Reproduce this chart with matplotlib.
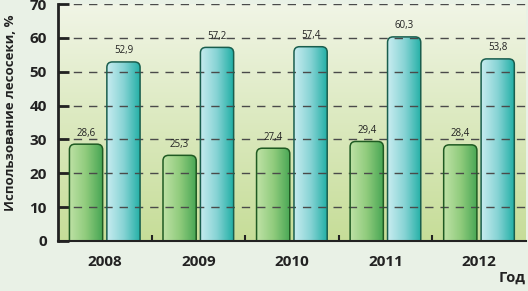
import numpy as np
import matplotlib.pyplot as plt
from matplotlib.patches import FancyBboxPatch
from matplotlib.colors import LinearSegmentedColormap

years = ['2008', '2009', '2010', '2011', '2012']
series_green = [28.6, 25.3, 27.4, 29.4, 28.4]
series_cyan = [52.9, 57.2, 57.4, 60.3, 53.8]
yticks = [0, 10, 20, 30, 40, 50, 60, 70]

plt.rcParams['font.family'] = ['Open Sans', 'DejaVu Sans']

fig = plt.figure(figsize=(5.28, 2.91), dpi=100)
fig.patch.set_facecolor('#e9f1e6')
ax = fig.add_axes([0.1098, 0.172, 0.886, 0.814])
ax.set_xlim(-0.5, 4.5)
ax.set_ylim(0, 70)

# background gradient of the plot area
bg = LinearSegmentedColormap.from_list('bg', ['#c6dd98', '#f1f5e6'])
grad = np.linspace(0, 1, 256).reshape(-1, 1)
ax.imshow(grad, cmap=bg, aspect='auto', extent=(-0.5, 4.5, 0, 70),
          origin='lower', zorder=0)

cm_green = LinearSegmentedColormap.from_list('g', ['#bfe2a6', '#8fcb7c', '#45a553'])
cm_cyan = LinearSegmentedColormap.from_list('c', ['#c8ecf0', '#86d3d4', '#1eaea4'])
hgrad = np.linspace(0, 1, 256).reshape(1, -1)

w = 0.355
off = 0.2


def gradient_bar(x, h, cmap, edge):
    left = x - w / 2
    patch = FancyBboxPatch((left, -2), w, h + 2,
                           boxstyle='round,pad=0,rounding_size=0.06',
                           mutation_aspect=27,
                           facecolor='none', edgecolor=edge, linewidth=1.1,
                           zorder=3)
    ax.add_patch(patch)
    im = ax.imshow(hgrad, cmap=cmap, aspect='auto',
                   extent=(left, left + w, -2, h), zorder=2)
    im.set_clip_path(patch)


x = np.arange(len(years))
for i in x:
    gradient_bar(i - off, series_green[i], cm_green, '#1f5a22')
    gradient_bar(i + off, series_cyan[i], cm_cyan, '#1a5e4e')
    for xx, v in [(i - off, series_green[i]), (i + off, series_cyan[i])]:
        ax.annotate(f'{v:.1f}'.replace('.', ','), (xx, v),
                    xytext=(0, 4), textcoords='offset points',
                    ha='center', va='bottom', fontsize=7, color='#222222',
                    zorder=5)

ax.set_yticks(yticks)
ax.set_yticklabels([str(t) for t in yticks], fontsize=11, fontweight='bold',
                   color='#222222')
ax.yaxis.grid(True, linestyle=(0, (6, 5)), color='#4a4a4a', linewidth=1.0,
              zorder=1)
ax.set_axisbelow(False)
ax.tick_params(axis='y', direction='in', length=8, width=2, color='#222222',
               pad=8)

ax.set_xticks(x)
ax.set_xticklabels(years, fontsize=11, fontweight='bold', color='#222222')
ax.tick_params(axis='x', length=0, pad=10)
ax.set_xticks(np.arange(0.5, 4.5, 1), minor=True)
ax.tick_params(axis='x', which='minor', direction='in', length=4, width=1.5,
               color='#222222')

for s in ['top', 'right']:
    ax.spines[s].set_visible(False)
ax.spines['left'].set_linewidth(2)
ax.spines['left'].set_color('#222222')
ax.spines['bottom'].set_linewidth(1.5)
ax.spines['bottom'].set_color('#222222')
ax.spines['left'].set_zorder(6)
ax.spines['bottom'].set_zorder(6)

ax.set_ylabel('Использование лесосеки, %', fontsize=9.5, fontweight='bold',
              color='#222222')
ax.yaxis.set_label_coords(-0.088, 0.54)
fig.text(0.995, 0.02, 'Год', ha='right', va='bottom', fontsize=10.5,
         fontweight='bold', color='#222222')

fig.savefig('out.png', dpi=100, facecolor=fig.get_facecolor())
